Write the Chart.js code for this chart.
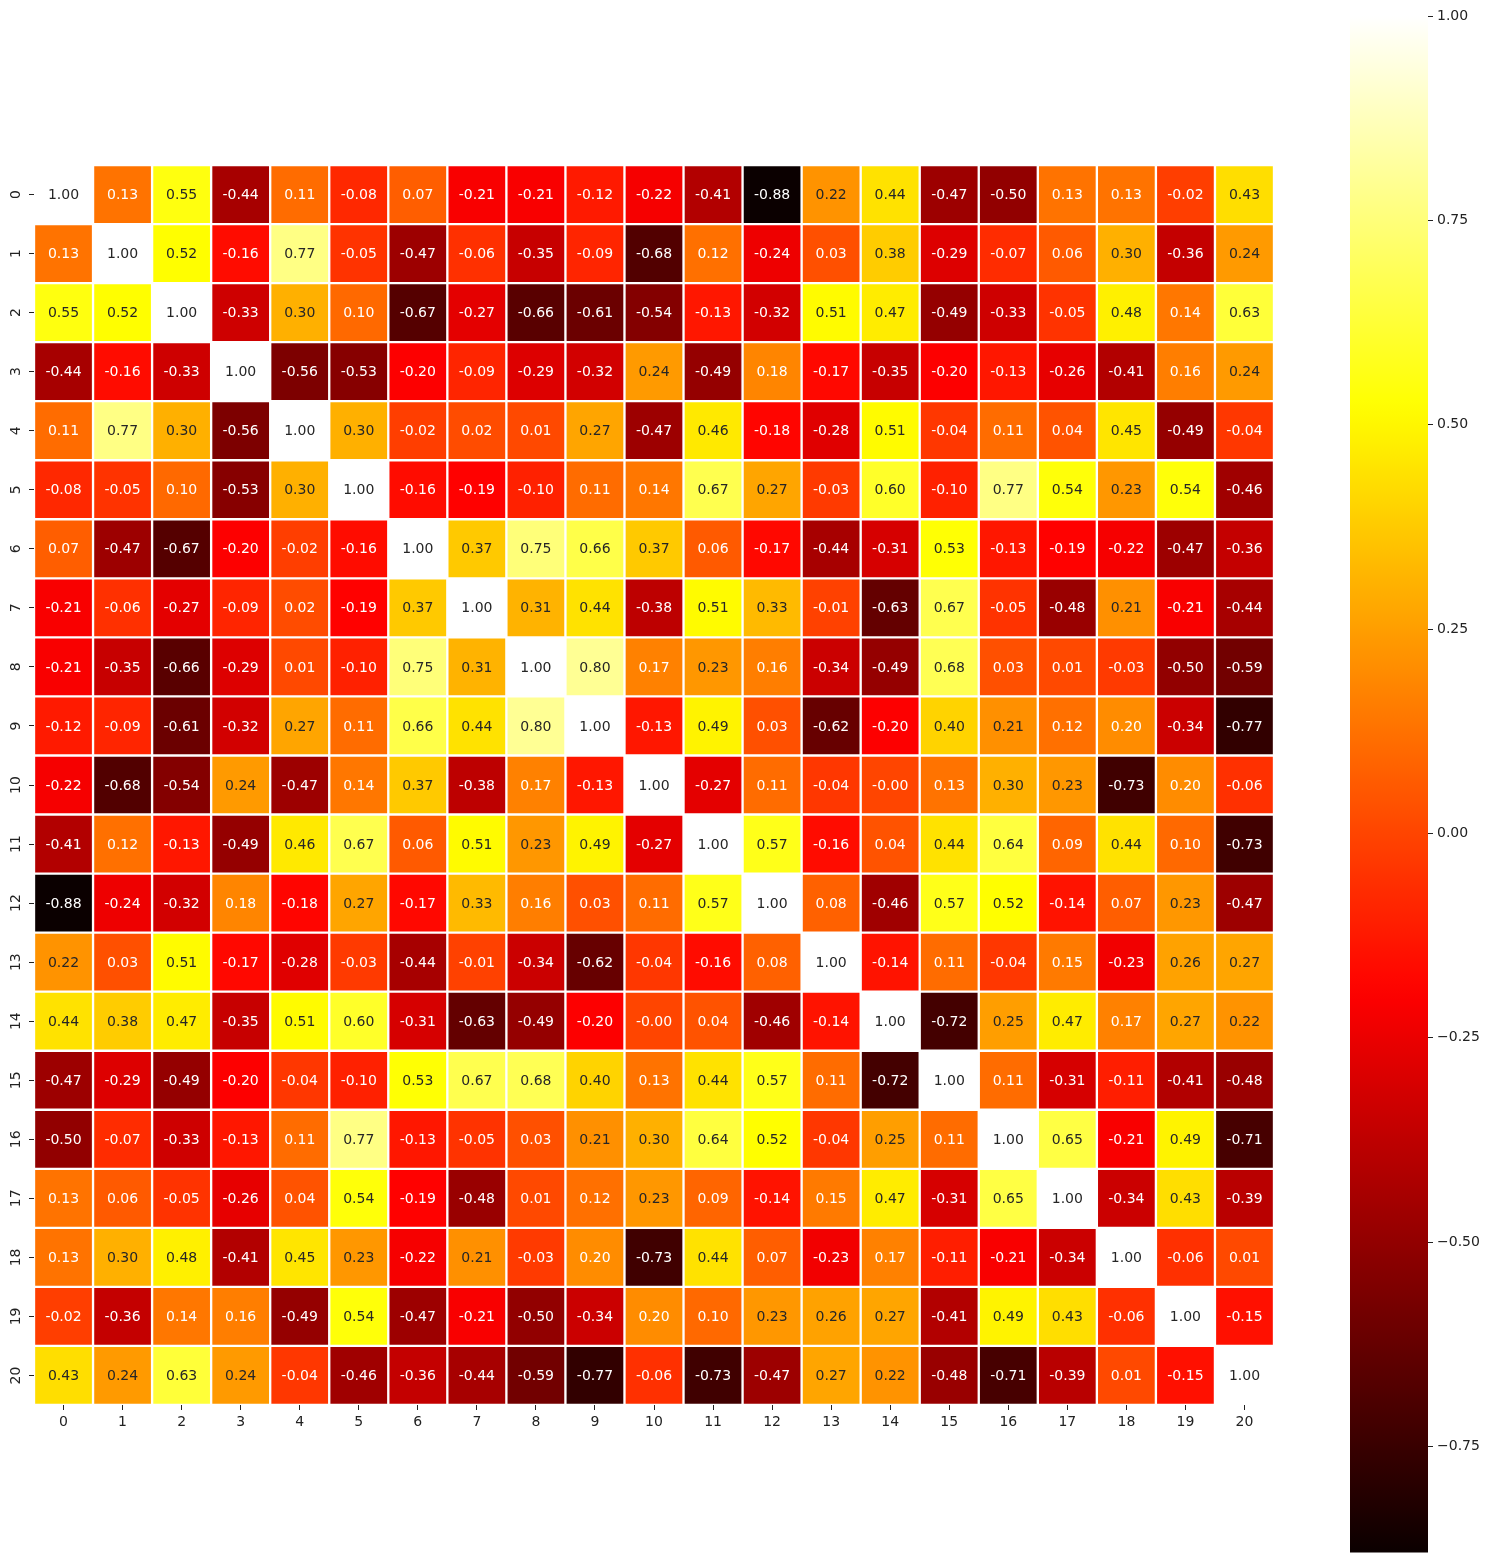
<!DOCTYPE html>
<html>
<head>
<meta charset="utf-8">
<script src="https://cdn.jsdelivr.net/npm/chart.js@4.4.1/dist/chart.umd.min.js"></script>
<style>
  html, body { margin: 0; padding: 0; background: #ffffff; }
  body { width: 1490px; height: 1565px; position: relative; overflow: hidden; }
  #main { position: absolute; left: 0; top: 0; }
  #cbar { position: absolute; left: 1300px; top: 0; }
</style>
</head>
<body>
<canvas id="main" width="1290" height="1450"></canvas>
<canvas id="cbar" width="190" height="1565"></canvas>
<script>
// ---- data ----
const labels = ['0','1','2','3','4','5','6','7','8','9','10','11','12','13','14','15','16','17','18','19','20'];
const corr = [
  [1.00, 0.13, 0.55, -0.44, 0.11, -0.08, 0.07, -0.21, -0.21, -0.12, -0.22, -0.41, -0.88, 0.22, 0.44, -0.47, -0.50, 0.13, 0.13, -0.02, 0.43],
  [0.13, 1.00, 0.52, -0.16, 0.77, -0.05, -0.47, -0.06, -0.35, -0.09, -0.68, 0.12, -0.24, 0.03, 0.38, -0.29, -0.07, 0.06, 0.30, -0.36, 0.24],
  [0.55, 0.52, 1.00, -0.33, 0.30, 0.10, -0.67, -0.27, -0.66, -0.61, -0.54, -0.13, -0.32, 0.51, 0.47, -0.49, -0.33, -0.05, 0.48, 0.14, 0.63],
  [-0.44, -0.16, -0.33, 1.00, -0.56, -0.53, -0.20, -0.09, -0.29, -0.32, 0.24, -0.49, 0.18, -0.17, -0.35, -0.20, -0.13, -0.26, -0.41, 0.16, 0.24],
  [0.11, 0.77, 0.30, -0.56, 1.00, 0.30, -0.02, 0.02, 0.01, 0.27, -0.47, 0.46, -0.18, -0.28, 0.51, -0.04, 0.11, 0.04, 0.45, -0.49, -0.04],
  [-0.08, -0.05, 0.10, -0.53, 0.30, 1.00, -0.16, -0.19, -0.10, 0.11, 0.14, 0.67, 0.27, -0.03, 0.60, -0.10, 0.77, 0.54, 0.23, 0.54, -0.46],
  [0.07, -0.47, -0.67, -0.20, -0.02, -0.16, 1.00, 0.37, 0.75, 0.66, 0.37, 0.06, -0.17, -0.44, -0.31, 0.53, -0.13, -0.19, -0.22, -0.47, -0.36],
  [-0.21, -0.06, -0.27, -0.09, 0.02, -0.19, 0.37, 1.00, 0.31, 0.44, -0.38, 0.51, 0.33, -0.01, -0.63, 0.67, -0.05, -0.48, 0.21, -0.21, -0.44],
  [-0.21, -0.35, -0.66, -0.29, 0.01, -0.10, 0.75, 0.31, 1.00, 0.80, 0.17, 0.23, 0.16, -0.34, -0.49, 0.68, 0.03, 0.01, -0.03, -0.50, -0.59],
  [-0.12, -0.09, -0.61, -0.32, 0.27, 0.11, 0.66, 0.44, 0.80, 1.00, -0.13, 0.49, 0.03, -0.62, -0.20, 0.40, 0.21, 0.12, 0.20, -0.34, -0.77],
  [-0.22, -0.68, -0.54, 0.24, -0.47, 0.14, 0.37, -0.38, 0.17, -0.13, 1.00, -0.27, 0.11, -0.04, -0.00, 0.13, 0.30, 0.23, -0.73, 0.20, -0.06],
  [-0.41, 0.12, -0.13, -0.49, 0.46, 0.67, 0.06, 0.51, 0.23, 0.49, -0.27, 1.00, 0.57, -0.16, 0.04, 0.44, 0.64, 0.09, 0.44, 0.10, -0.73],
  [-0.88, -0.24, -0.32, 0.18, -0.18, 0.27, -0.17, 0.33, 0.16, 0.03, 0.11, 0.57, 1.00, 0.08, -0.46, 0.57, 0.52, -0.14, 0.07, 0.23, -0.47],
  [0.22, 0.03, 0.51, -0.17, -0.28, -0.03, -0.44, -0.01, -0.34, -0.62, -0.04, -0.16, 0.08, 1.00, -0.14, 0.11, -0.04, 0.15, -0.23, 0.26, 0.27],
  [0.44, 0.38, 0.47, -0.35, 0.51, 0.60, -0.31, -0.63, -0.49, -0.20, -0.00, 0.04, -0.46, -0.14, 1.00, -0.72, 0.25, 0.47, 0.17, 0.27, 0.22],
  [-0.47, -0.29, -0.49, -0.20, -0.04, -0.10, 0.53, 0.67, 0.68, 0.40, 0.13, 0.44, 0.57, 0.11, -0.72, 1.00, 0.11, -0.31, -0.11, -0.41, -0.48],
  [-0.50, -0.07, -0.33, -0.13, 0.11, 0.77, -0.13, -0.05, 0.03, 0.21, 0.30, 0.64, 0.52, -0.04, 0.25, 0.11, 1.00, 0.65, -0.21, 0.49, -0.71],
  [0.13, 0.06, -0.05, -0.26, 0.04, 0.54, -0.19, -0.48, 0.01, 0.12, 0.23, 0.09, -0.14, 0.15, 0.47, -0.31, 0.65, 1.00, -0.34, 0.43, -0.39],
  [0.13, 0.30, 0.48, -0.41, 0.45, 0.23, -0.22, 0.21, -0.03, 0.20, -0.73, 0.44, 0.07, -0.23, 0.17, -0.11, -0.21, -0.34, 1.00, -0.06, 0.01],
  [-0.02, -0.36, 0.14, 0.16, -0.49, 0.54, -0.47, -0.21, -0.50, -0.34, 0.20, 0.10, 0.23, 0.26, 0.27, -0.41, 0.49, 0.43, -0.06, 1.00, -0.15],
  [0.43, 0.24, 0.63, 0.24, -0.04, -0.46, -0.36, -0.44, -0.59, -0.77, -0.06, -0.73, -0.47, 0.27, 0.22, -0.48, -0.71, -0.39, 0.01, -0.15, 1.00]
];
const vmin = -0.88;
const vmax = 1.00;
const colorbarTicks = [-0.75, -0.50, -0.25, 0.00, 0.25, 0.50, 0.75, 1.00];

// ---- 'hot' colormap ----
function hotRGB(v) {
  const t = Math.min(1, Math.max(0, (v - vmin) / (vmax - vmin)));
  const a = 0.365079, b = 0.746032;
  const r = t < a ? 0.0416 + (1 - 0.0416) * t / a : 1;
  const g = t < a ? 0 : (t < b ? (t - a) / (b - a) : 1);
  const bl = t < b ? 0 : (t - b) / (1 - b);
  return [r, g, bl];
}
function hotCss(v) {
  const [r, g, b] = hotRGB(v);
  return 'rgb(' + Math.round(r * 255) + ',' + Math.round(g * 255) + ',' + Math.round(b * 255) + ')';
}
function textColorFor(v) {
  const lin = hotRGB(v).map(x => x <= 0.03928 ? x / 12.92 : Math.pow((x + 0.055) / 1.055, 2.4));
  const lum = 0.2126 * lin[0] + 0.7152 * lin[1] + 0.0722 * lin[2];
  return lum > 0.408 ? '#262626' : '#ffffff';
}
function fmt(v) {
  const s = Math.abs(v).toFixed(2);
  return (v < 0 || Object.is(v, -0)) ? '-' + s : s;
}

const FONT = '"DejaVu Sans", sans-serif';
const TICK_COLOR = '#222222';

// ---- plugins ----
const annotatePlugin = {
  id: 'annotate',
  afterDatasetsDraw(chart) {
    const ctx = chart.ctx;
    ctx.save();
    ctx.font = '14px ' + FONT;
    ctx.textAlign = 'center';
    ctx.textBaseline = 'middle';
    chart.data.datasets.forEach((ds, r) => {
      const meta = chart.getDatasetMeta(r);
      meta.data.forEach((el, c) => {
        const v = corr[r][c];
        const p = el.getCenterPoint();
        ctx.fillStyle = textColorFor(v);
        ctx.fillText(fmt(v), p.x, p.y + 1);
      });
    });
    ctx.restore();
  }
};

const yLabelPlugin = {
  id: 'ylabels',
  afterDraw(chart) {
    const ys = chart.scales.y;
    const ctx = chart.ctx;
    ctx.save();
    ctx.font = '14px ' + FONT;
    ctx.fillStyle = TICK_COLOR;
    ctx.textAlign = 'center';
    ctx.textBaseline = 'middle';
    labels.forEach((lab, i) => {
      const y = ys.getPixelForValue(i + 0.5);
      ctx.save();
      ctx.translate(16, y);
      ctx.rotate(-Math.PI / 2);
      ctx.fillText(lab, 0, 0);
      ctx.restore();
    });
    ctx.restore();
  }
};

// ---- main heatmap ----
const datasets = corr.map((row, r) => ({
  label: 'row ' + labels[r],
  data: row.map(() => [r, r + 1]),
  backgroundColor: row.map(v => hotCss(v)),
  borderColor: '#ffffff',
  borderWidth: 1.5,
  borderSkipped: false,
  grouped: false,
  barPercentage: 1,
  categoryPercentage: 1
}));

new Chart(document.getElementById('main'), {
  type: 'bar',
  data: { labels: labels, datasets: datasets },
  options: {
    responsive: false,
    animation: false,
    devicePixelRatio: 1,
    layout: { padding: { left: 0, top: 165, right: 16, bottom: 0 } },
    plugins: { legend: { display: false }, tooltip: { enabled: false } },
    scales: {
      x: {
        type: 'category',
        offset: true,
        grid: { display: true, drawOnChartArea: false, drawTicks: true, tickLength: 5, tickWidth: 1, tickColor: TICK_COLOR, offset: false },
        border: { display: false },
        ticks: { font: { family: FONT, size: 14 }, color: TICK_COLOR, padding: 4, maxRotation: 0, autoSkip: false },
        afterFit(scale) { scale.height = 45; }
      },
      y: {
        type: 'linear',
        reverse: true,
        min: 0,
        max: labels.length,
        afterBuildTicks(scale) { scale.ticks = labels.map((_, i) => ({ value: i + 0.5 })); },
        grid: { display: true, drawOnChartArea: false, drawTicks: true, tickLength: 5, tickWidth: 1, tickColor: TICK_COLOR },
        border: { display: false },
        ticks: { display: false },
        afterFit(scale) { scale.width = 34; }
      }
    }
  },
  plugins: [annotatePlugin, yLabelPlugin]
});

// ---- colorbar ----
new Chart(document.getElementById('cbar'), {
  type: 'bar',
  data: {
    labels: ['colorbar'],
    datasets: [{
      data: [[vmin, vmax]],
      backgroundColor(ctx) {
        const chart = ctx.chart;
        const ys = chart.scales.y;
        if (!chart.chartArea || !ys) return 'rgba(0,0,0,0)';
        const y0 = ys.getPixelForValue(vmin), y1 = ys.getPixelForValue(vmax);
        const g = chart.ctx.createLinearGradient(0, y0, 0, y1);
        const n = 64;
        for (let i = 0; i <= n; i++) {
          const v = vmin + (vmax - vmin) * i / n;
          g.addColorStop(i / n, hotCss(v));
        }
        return g;
      },
      borderWidth: 0,
      barPercentage: 1,
      categoryPercentage: 1
    }]
  },
  options: {
    responsive: false,
    animation: false,
    devicePixelRatio: 1,
    layout: { padding: { left: 50, top: 16, right: 0, bottom: 10 } },
    plugins: { legend: { display: false }, tooltip: { enabled: false } },
    scales: {
      x: { display: false },
      y: {
        type: 'linear',
        position: 'right',
        min: vmin,
        max: vmax,
        afterBuildTicks(scale) { scale.ticks = colorbarTicks.map(v => ({ value: v })); },
        grid: { display: true, drawOnChartArea: false, drawTicks: true, tickLength: 5, tickWidth: 1, tickColor: TICK_COLOR },
        border: { display: false },
        ticks: {
          font: { family: FONT, size: 14 },
          color: TICK_COLOR,
          padding: 4,
          callback: v => v.toFixed(2).replace('-', '\u2212')
        },
        afterFit(scale) { scale.width = 62; }
      }
    }
  }
});
</script>
</body>
</html>
